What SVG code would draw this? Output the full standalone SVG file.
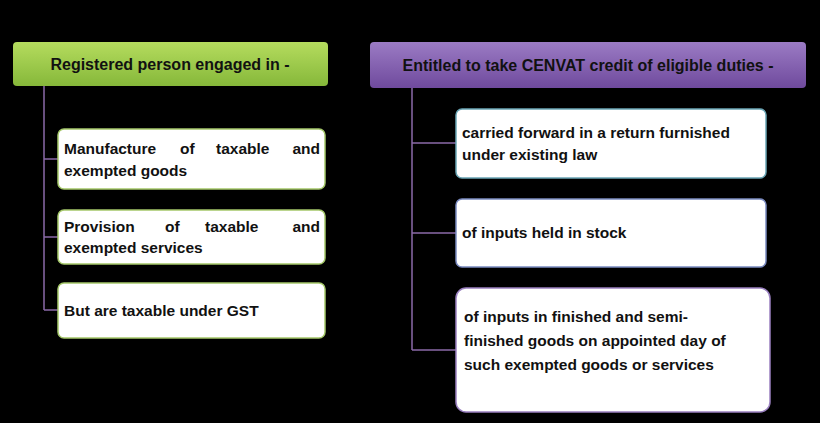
<svg xmlns="http://www.w3.org/2000/svg" width="820" height="423" viewBox="0 0 820 423">
<defs>
<linearGradient id="g" x1="0" y1="0" x2="0" y2="1"><stop offset="0" stop-color="#b5dc5e"/><stop offset="1" stop-color="#86b83a"/></linearGradient>
<linearGradient id="p" x1="0" y1="0" x2="0" y2="1"><stop offset="0" stop-color="#9b7bc4"/><stop offset="1" stop-color="#6f4a9d"/></linearGradient>
<style>
text{font-family:"Liberation Sans",Arial,sans-serif;font-weight:bold;font-size:15.5px;fill:#111}
.h{font-size:16px}
.box{fill:#fff;stroke-width:1.5}
.c{stroke:#8a6aa8;stroke-width:1.5;fill:none}
</style>
</defs>
<rect width="820" height="423" fill="#000"/>
<g id="connectors">
<path class="c" d="M44 86V310M44 159H58M44 237H58M44 310H58" stroke="#7a8a9a"/>
<path class="c" d="M412 88V350M412 143H456M412 233H456M412 350H456"/>
</g>
<g id="h1"><rect x="13" y="42" width="315" height="44" rx="4" fill="url(#g)"/><text class="h" x="170" y="70" text-anchor="middle">Registered person engaged in -</text></g>
<g id="h2"><rect x="370" y="42" width="436" height="46" rx="4" fill="url(#p)"/><text class="h" x="588" y="71" text-anchor="middle">Entitled to take CENVAT credit of eligible duties -</text></g>
<g id="l1"><rect class="box" x="58" y="129" width="267" height="60" rx="6" stroke="#a5c86a"/><text x="64" y="154">Manufacture</text><text x="180" y="154">of</text><text x="216" y="154">taxable</text><text x="320" y="154" text-anchor="end">and</text><text x="64" y="176">exempted goods</text></g>
<g id="l2"><rect class="box" x="58" y="210" width="267" height="54" rx="6" stroke="#a5c86a"/><text x="64" y="232">Provision</text><text x="165" y="232">of</text><text x="205" y="232">taxable</text><text x="320" y="232" text-anchor="end">and</text><text x="64" y="253">exempted services</text></g>
<g id="l3"><rect class="box" x="58" y="283" width="267" height="55" rx="6" stroke="#a5c86a"/><text x="64" y="316">But are taxable under GST</text></g>
<g id="r1"><rect class="box" x="456" y="109" width="310" height="69" rx="6" stroke="#6aa5b5"/><text x="462" y="138">carried forward in a return furnished</text><text x="462" y="160">under existing law</text></g>
<g id="r2"><rect class="box" x="456" y="199" width="310" height="68" rx="6" stroke="#7a8ac0"/><text x="462" y="238">of inputs held in stock</text></g>
<g id="r3"><rect class="box" x="456" y="288" width="314" height="124" rx="10" stroke="#9a80c0"/><text x="464" y="322">of inputs in finished and semi-</text><text x="464" y="346">finished goods on appointed day of</text><text x="464" y="370">such exempted goods or services</text></g>
</svg>
